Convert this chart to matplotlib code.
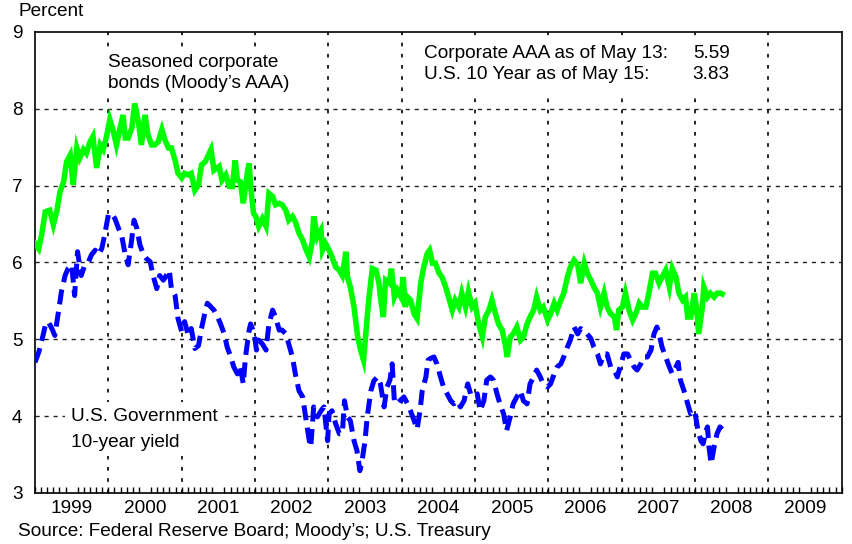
import numpy as np
import matplotlib
matplotlib.use('Agg')
import matplotlib.pyplot as plt

plt.rcParams['font.family'] = ['Liberation Sans', 'DejaVu Sans']

# Moody's AAA seasoned corporate bond yield, decimal years
corp_dates = [
    1999.00, 1999.05, 1999.09, 1999.14, 1999.20, 1999.25, 1999.30, 1999.34, 1999.39, 1999.43,
    1999.48, 1999.52, 1999.57, 1999.61, 1999.66, 1999.70, 1999.75, 1999.79, 1999.84, 1999.89,
    1999.93, 1999.98, 2000.02, 2000.07, 2000.11, 2000.16, 2000.20, 2000.23, 2000.27, 2000.32,
    2000.36, 2000.41, 2000.45, 2000.50, 2000.54, 2000.59, 2000.63, 2000.68, 2000.73, 2000.77,
    2000.82, 2000.86, 2000.91, 2000.95, 2001.00, 2001.04, 2001.09, 2001.13, 2001.18, 2001.23,
    2001.27, 2001.32, 2001.40, 2001.44, 2001.51, 2001.55, 2001.60, 2001.65, 2001.69, 2001.73,
    2001.76, 2001.80, 2001.84, 2001.90, 2001.92, 2001.94, 2001.98, 2002.01, 2002.05, 2002.10,
    2002.15, 2002.19, 2002.24, 2002.28, 2002.33, 2002.37, 2002.42, 2002.46, 2002.51, 2002.55,
    2002.60, 2002.65, 2002.69, 2002.74, 2002.78, 2002.80, 2002.85, 2002.90, 2002.92, 2002.96,
    2003.01, 2003.05, 2003.10, 2003.15, 2003.19, 2003.24, 2003.26, 2003.30, 2003.35, 2003.40,
    2003.44, 2003.48, 2003.51, 2003.55, 2003.60, 2003.65, 2003.69, 2003.71, 2003.75, 2003.78,
    2003.83, 2003.86, 2003.90, 2003.94, 2003.99, 2004.02, 2004.05, 2004.08, 2004.12, 2004.17,
    2004.21, 2004.26, 2004.30, 2004.35, 2004.38, 2004.42, 2004.46, 2004.51, 2004.55, 2004.60,
    2004.64, 2004.69, 2004.73, 2004.78, 2004.82, 2004.87, 2004.91, 2004.96, 2005.00, 2005.05,
    2005.10, 2005.14, 2005.19, 2005.23, 2005.28, 2005.32, 2005.37, 2005.41, 2005.44, 2005.48,
    2005.52, 2005.57, 2005.62, 2005.66, 2005.71, 2005.75, 2005.80, 2005.84, 2005.89, 2005.93,
    2005.99, 2006.03, 2006.08, 2006.12, 2006.17, 2006.21, 2006.26, 2006.30, 2006.35, 2006.40,
    2006.44, 2006.49, 2006.53, 2006.58, 2006.62, 2006.67, 2006.71, 2006.76, 2006.80, 2006.85,
    2006.90, 2006.93, 2006.96, 2007.01, 2007.05, 2007.10, 2007.15, 2007.19, 2007.24, 2007.28,
    2007.33, 2007.37, 2007.42, 2007.46, 2007.51, 2007.55, 2007.60, 2007.65, 2007.69, 2007.74,
    2007.78, 2007.83, 2007.87, 2007.90, 2007.94, 2007.99, 2008.02, 2008.05, 2008.10, 2008.12,
    2008.17, 2008.21, 2008.26, 2008.30, 2008.35, 2008.37,
]
corp_yield = [
    6.25, 6.18, 6.36, 6.66, 6.68, 6.49, 6.68, 6.92, 7.05, 7.31,
    7.40, 7.01, 7.49, 7.36, 7.47, 7.42, 7.57, 7.64, 7.23, 7.53,
    7.47, 7.66, 7.86, 7.70, 7.53, 7.75, 7.92, 7.62, 7.62, 7.75,
    8.07, 7.83, 7.53, 7.92, 7.66, 7.53, 7.53, 7.57, 7.73, 7.60,
    7.49, 7.49, 7.33, 7.16, 7.10, 7.16, 7.14, 7.16, 6.94, 7.01,
    7.27, 7.31, 7.47, 7.20, 7.25, 7.07, 7.14, 6.99, 6.99, 7.33,
    7.07, 7.05, 6.77, 7.20, 7.29, 6.99, 6.64, 6.60, 6.47, 6.57,
    6.47, 6.90, 6.86, 6.75, 6.77, 6.75, 6.68, 6.55, 6.60, 6.53,
    6.38, 6.29, 6.18, 6.07, 6.27, 6.60, 6.33, 6.42, 6.16, 6.25,
    6.16, 6.07, 5.94, 5.90, 5.83, 6.14, 5.81, 5.68, 5.42, 5.03,
    4.86, 4.73, 5.07, 5.51, 5.92, 5.90, 5.73, 5.55, 5.29, 5.77,
    5.73, 5.92, 5.55, 5.64, 5.55, 5.81, 5.42, 5.55, 5.51, 5.33,
    5.27, 5.73, 5.94, 6.12, 6.16, 5.99, 5.99, 5.86, 5.81, 5.68,
    5.55, 5.38, 5.51, 5.42, 5.60, 5.42, 5.62, 5.42, 5.47, 5.20,
    5.03, 5.29, 5.38, 5.51, 5.33, 5.20, 5.12, 4.94, 4.77, 5.03,
    5.07, 5.16, 4.99, 5.03, 5.20, 5.29, 5.38, 5.55, 5.38, 5.42,
    5.25, 5.33, 5.47, 5.38, 5.51, 5.60, 5.81, 5.94, 6.03, 5.97,
    5.73, 5.99, 5.86, 5.77, 5.68, 5.60, 5.42, 5.60, 5.42, 5.33,
    5.29, 5.12, 5.38, 5.42, 5.60, 5.38, 5.25, 5.33, 5.47, 5.42,
    5.42, 5.60, 5.86, 5.86, 5.73, 5.81, 5.90, 5.68, 5.92, 5.81,
    5.60, 5.51, 5.55, 5.29, 5.29, 5.60, 5.42, 5.07, 5.42, 5.68,
    5.55, 5.60, 5.55, 5.60, 5.60, 5.59,
]

# U.S. Government 10-year yield, decimal years
tsy_dates = [
    1999.00, 1999.05, 1999.09, 1999.14, 1999.18, 1999.23, 1999.27, 1999.32, 1999.36, 1999.41,
    1999.45, 1999.50, 1999.54, 1999.58, 1999.63, 1999.68, 1999.73, 1999.77, 1999.82, 1999.86,
    1999.91, 1999.95, 2000.00, 2000.04, 2000.09, 2000.14, 2000.18, 2000.23, 2000.27, 2000.32,
    2000.35, 2000.39, 2000.43, 2000.48, 2000.52, 2000.57, 2000.61, 2000.66, 2000.70, 2000.75,
    2000.79, 2000.83, 2000.86, 2000.91, 2000.95, 2001.00, 2001.04, 2001.09, 2001.13, 2001.18,
    2001.23, 2001.27, 2001.32, 2001.35, 2001.40, 2001.44, 2001.49, 2001.53, 2001.58, 2001.62,
    2001.67, 2001.71, 2001.76, 2001.80, 2001.84, 2001.87, 2001.92, 2001.94, 2001.99, 2002.02,
    2002.05, 2002.10, 2002.15, 2002.19, 2002.24, 2002.28, 2002.33, 2002.37, 2002.42, 2002.46,
    2002.51, 2002.55, 2002.60, 2002.65, 2002.69, 2002.74, 2002.76, 2002.80, 2002.85, 2002.90,
    2002.94, 2002.99, 2003.01, 2003.05, 2003.10, 2003.15, 2003.19, 2003.22, 2003.26, 2003.30,
    2003.35, 2003.39, 2003.43, 2003.46, 2003.50, 2003.53, 2003.58, 2003.62, 2003.67, 2003.71,
    2003.76, 2003.80, 2003.84, 2003.87, 2003.90, 2003.94, 2003.99, 2004.03, 2004.08, 2004.12,
    2004.17, 2004.21, 2004.25, 2004.28, 2004.33, 2004.36, 2004.39, 2004.44, 2004.48, 2004.53,
    2004.57, 2004.62, 2004.67, 2004.71, 2004.76, 2004.80, 2004.85, 2004.90, 2004.94, 2004.98,
    2005.03, 2005.07, 2005.12, 2005.16, 2005.21, 2005.25, 2005.30, 2005.34, 2005.39, 2005.43,
    2005.48, 2005.52, 2005.57, 2005.62, 2005.66, 2005.71, 2005.75, 2005.80, 2005.84, 2005.89,
    2005.93, 2005.99, 2006.03, 2006.08, 2006.12, 2006.17, 2006.21, 2006.26, 2006.30, 2006.35,
    2006.40, 2006.44, 2006.49, 2006.53, 2006.58, 2006.62, 2006.67, 2006.71, 2006.76, 2006.80,
    2006.85, 2006.90, 2006.94, 2006.99, 2007.03, 2007.08, 2007.12, 2007.17, 2007.21, 2007.26,
    2007.30, 2007.35, 2007.40, 2007.44, 2007.48, 2007.51, 2007.55, 2007.60, 2007.65, 2007.69,
    2007.74, 2007.77, 2007.80, 2007.85, 2007.90, 2007.94, 2007.99, 2008.01, 2008.04, 2008.08,
    2008.11, 2008.15, 2008.17, 2008.19, 2008.22, 2008.26, 2008.30, 2008.34, 2008.37,
]
tsy_yield = [
    4.70, 4.83, 4.97, 5.18, 5.23, 5.14, 5.05, 5.36, 5.62, 5.83,
    5.92, 5.97, 5.57, 6.14, 5.83, 5.97, 6.01, 6.10, 6.16, 6.10,
    6.18, 6.36, 6.62, 6.64, 6.57, 6.44, 6.36, 6.10, 5.97, 6.31,
    6.55, 6.44, 6.23, 6.10, 6.05, 6.01, 5.83, 5.66, 5.83, 5.77,
    5.83, 5.90, 5.66, 5.57, 5.27, 5.10, 5.23, 5.05, 5.14, 4.88,
    4.92, 5.14, 5.36, 5.47, 5.42, 5.38, 5.29, 5.20, 5.07, 4.90,
    4.77, 4.64, 4.55, 4.64, 4.42, 4.77, 5.12, 5.20, 5.07, 4.86,
    4.99, 4.94, 4.86, 5.20, 5.38, 5.29, 5.12, 5.12, 5.07, 4.94,
    4.77, 4.55, 4.33, 4.25, 3.99, 3.68, 3.60, 4.12, 3.99, 4.07,
    4.12, 3.68, 4.03, 4.07, 3.90, 3.77, 3.77, 4.20, 3.99, 3.94,
    3.68, 3.55, 3.29, 3.42, 3.68, 3.99, 4.33, 4.46, 4.51, 4.42,
    4.12, 4.38, 4.47, 4.68, 4.20, 4.25, 4.20, 4.25, 4.16, 4.07,
    3.94, 3.83, 4.07, 4.33, 4.51, 4.73, 4.75, 4.77, 4.68, 4.51,
    4.38, 4.29, 4.20, 4.16, 4.20, 4.12, 4.20, 4.42, 4.29, 4.25,
    4.29, 4.07, 4.20, 4.47, 4.51, 4.47, 4.29, 4.16, 4.03, 3.81,
    3.99, 4.16, 4.25, 4.33, 4.20, 4.16, 4.42, 4.51, 4.60, 4.51,
    4.42, 4.38, 4.42, 4.55, 4.64, 4.68, 4.77, 4.90, 4.99, 5.16,
    5.07, 5.14, 5.10, 5.07, 5.01, 4.90, 4.81, 4.68, 4.81, 4.81,
    4.64, 4.60, 4.51, 4.68, 4.81, 4.81, 4.73, 4.64, 4.60, 4.68,
    4.77, 4.77, 4.86, 5.07, 5.16, 5.07, 4.90, 4.77, 4.64, 4.55,
    4.64, 4.70, 4.47, 4.33, 4.16, 4.03, 4.07, 3.99, 3.81, 3.68,
    3.64, 3.81, 3.86, 3.60, 3.38, 3.60, 3.77, 3.86, 3.83,
]

years = list(range(1999, 2010))
fs = 13.7
white = dict(facecolor='white', edgecolor='none', pad=4)

fig = plt.figure(figsize=(8.52, 5.44), dpi=100)
ax = fig.add_axes([0.0411, 0.0938, 0.9468, 0.8474])

# grid: horizontal dashed at each percent, vertical dashed at year breaks
for v in [4, 5, 6, 7, 8]:
    ax.axhline(v, color='#222222', lw=1.0, dashes=(3, 3.5), zorder=1)
for y in years[1:]:
    ax.axvline(y, color='black', lw=1.2, dashes=(2.2, 4.5), zorder=1)

ax.plot(corp_dates, corp_yield, color='#00ff00', lw=4.0, solid_joinstyle='miter', zorder=4)
ax.plot(tsy_dates, tsy_yield, color='#0000ff', lw=3.6, dashes=(3, 1.5), zorder=4)

ax.set_xlim(1999, 2010)
ax.set_ylim(3, 9)
ax.set_yticks([3, 4, 5, 6, 7, 8, 9])
ax.tick_params(axis='y', length=0, pad=9, labelsize=fs)

ax.set_xticks([y + 0.5 for y in years])
ax.set_xticklabels([str(y) for y in years])
ax.set_xticks(np.arange(1999, 2010.001, 1 / 12), minor=True)
ax.tick_params(axis='x', which='major', length=0, pad=5, labelsize=fs)
ax.tick_params(axis='x', which='minor', direction='in', length=4, width=1, top=False)

for s in ax.spines.values():
    s.set_linewidth(1.2)

ax.text(2000.0, 8.466, 'Seasoned corporate\nbonds (Moody’s AAA)', fontsize=fs,
        va='center', ha='left', linespacing=1.32, bbox=white, zorder=3)
ax.text(1999.49, 3.83, 'U.S. Government\n10-year yield', fontsize=fs,
        va='center', ha='left', linespacing=1.68, bbox=white, zorder=3)

ax.text(2004.31, 8.583, 'Corporate AAA as of May 13:\nU.S. 10 Year as of May 15:', fontsize=fs,
        va='center', ha='left', linespacing=1.32,
        bbox=dict(facecolor='white', edgecolor='none', pad=6), zorder=3)
ax.text(2008.47, 8.583, '5.59\n3.83', fontsize=fs, va='center', ha='right',
        linespacing=1.32, bbox=dict(facecolor='white', edgecolor='none', pad=6), zorder=3)

fig.text(19 / 852, 1 - 12 / 544, 'Percent', fontsize=fs, va='center', ha='left')
fig.text(18 / 852, 1 - 531 / 544, 'Source: Federal Reserve Board; Moody’s; U.S. Treasury',
         fontsize=fs, va='center', ha='left')

fig.savefig('out.png', dpi=100)
